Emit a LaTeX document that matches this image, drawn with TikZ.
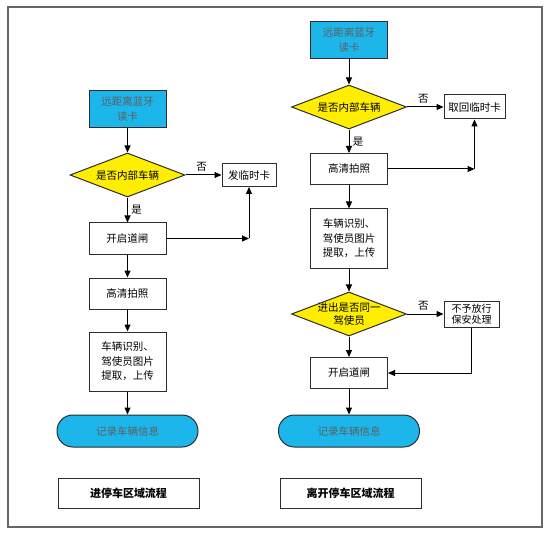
\documentclass[tikz,border=0pt]{standalone}
\usepackage{fontspec}
\newfontfamily\cjk{Noto Sans CJK SC}
\usetikzlibrary{shapes, arrows, positioning, calc, arrows.meta}

\definecolor{readblue}{RGB}{28,182,234}
\definecolor{askyellow}{RGB}{255,238,0}
\definecolor{linegray}{RGB}{45,45,45}
\definecolor{textgray}{RGB}{95,95,95}

\tikzset{
  box/.style={draw=linegray, fill=white, minimum width=77pt, minimum height=31pt, align=center, inner sep=2pt},
  readbox/.style={box, fill=readblue, text=textgray, minimum height=37pt, font=\cjk\fontsize{10.5}{15}\selectfont},
  decision/.style={draw=linegray, fill=askyellow, diamond, aspect=2.6, inner sep=-3pt, minimum width=115pt, minimum height=44pt, align=center},
  terminal/.style={draw=linegray, fill=readblue, text=textgray, rounded corners=15.9pt, minimum width=141pt, minimum height=32pt},
  titlebox/.style={draw=linegray, minimum width=141pt, minimum height=30pt, font=\cjk\bfseries\fontsize{11}{13}\selectfont}
}

\begin{document}
\begin{tikzpicture}[x=1pt, y=1pt, >={Triangle[length=7pt,width=6pt]}, font=\cjk\fontsize{10.5}{13}\selectfont, line width=1pt]
  \useasboundingbox (0,0) rectangle (550,-535);
  \draw[draw=gray!80!black, line width=1.4pt] (8,-7) rectangle (542,-527);

  % entering the parking area
  \node[readbox] (lread) at (127.5,-109) {远距离蓝牙\\读卡};
  \node[decision, node distance=66pt, below of=lread] (ldec) {是否内部车辆};
  \node[box, node distance=63.5pt, below of=ldec] (lgate) {开启道闸};
  \node[box, node distance=55pt, below of=lgate] (lphoto) {高清拍照};
  \node[box, minimum height=59pt, font=\cjk\fontsize{10.5}{14.5}\selectfont, node distance=68pt, below of=lphoto] (lrec) {车辆识别、\\驾使员图片\\提取，上传};
  \node[terminal, node distance=69.5pt, below of=lrec] (lend) {记录车辆信息};
  \node[titlebox, node distance=62pt, below of=lend, xshift=1pt] (ltitle) {进停车区域流程};
  \node[box, minimum width=54pt, minimum height=23pt, node distance=121.5pt, right of=ldec] (lcard) {发临时卡};
  \coordinate (lj) at (lcard.south |- lgate.east);

  \draw[->] (lread) -- (ldec);
  \draw[->] (ldec) -- node[pos=0.45, above] {否} (lcard);
  \draw[->] (ldec) -- node[right] {是} (lgate);
  \draw[->] (lgate) -- (lj);
  \draw[->] (lj) -- (lcard);
  \draw[->] (lgate) -- (lphoto);
  \draw[->] (lphoto) -- (lrec);
  \draw[->] (lrec) -- (lend);

  % leaving the parking area
  \node[readbox] (rread) at (349,-40.5) {远距离蓝牙\\读卡};
  \node[decision, node distance=66.5pt, below of=rread] (rdec) {是否内部车辆};
  \node[box, node distance=62pt, below of=rdec] (rphoto) {高清拍照};
  \node[box, minimum height=59pt, font=\cjk\fontsize{10.5}{14.5}\selectfont, node distance=69.5pt, below of=rphoto] (rrec) {车辆识别、\\驾使员图片\\提取，上传};
  \node[decision, node distance=75.5pt, below of=rrec] (rdec2) {进出是否同一\\驾使员};
  \node[box, node distance=59pt, below of=rdec2] (rgate) {开启道闸};
  \node[terminal, node distance=58pt, below of=rgate] (rend) {记录车辆信息};
  \node[titlebox, node distance=62pt, below of=rend, xshift=1.5pt] (rtitle) {离开停车区域流程};
  \node[box, minimum width=61pt, minimum height=24pt, node distance=125.5pt, right of=rdec] (rcard) {取回临时卡};
  \node[box, minimum width=55pt, minimum height=26pt, inner sep=1pt, font=\cjk\fontsize{10}{11}\selectfont, node distance=122.5pt, right of=rdec2] (rdeny) {不予放行\\保安处理};
  \coordinate (rj) at (rcard.south |- rphoto.east);

  \draw[->] (rread) -- (rdec);
  \draw[->] (rdec) -- node[pos=0.45, above] {否} (rcard);
  \draw[->] (rdec) -- node[right] {是} (rphoto);
  \draw[->] (rphoto) -- (rj);
  \draw[->] (rj) -- (rcard);
  \draw[->] (rphoto) -- (rrec);
  \draw[->] (rrec) -- (rdec2);
  \draw[->] (rdec2) -- node[pos=0.45, above] {否} (rdeny);
  \draw[->] (rdec2) -- (rgate);
  \draw[->] (rdeny) |- (rgate);
  \draw[->] (rgate) -- (rend);
\end{tikzpicture}
\end{document}
